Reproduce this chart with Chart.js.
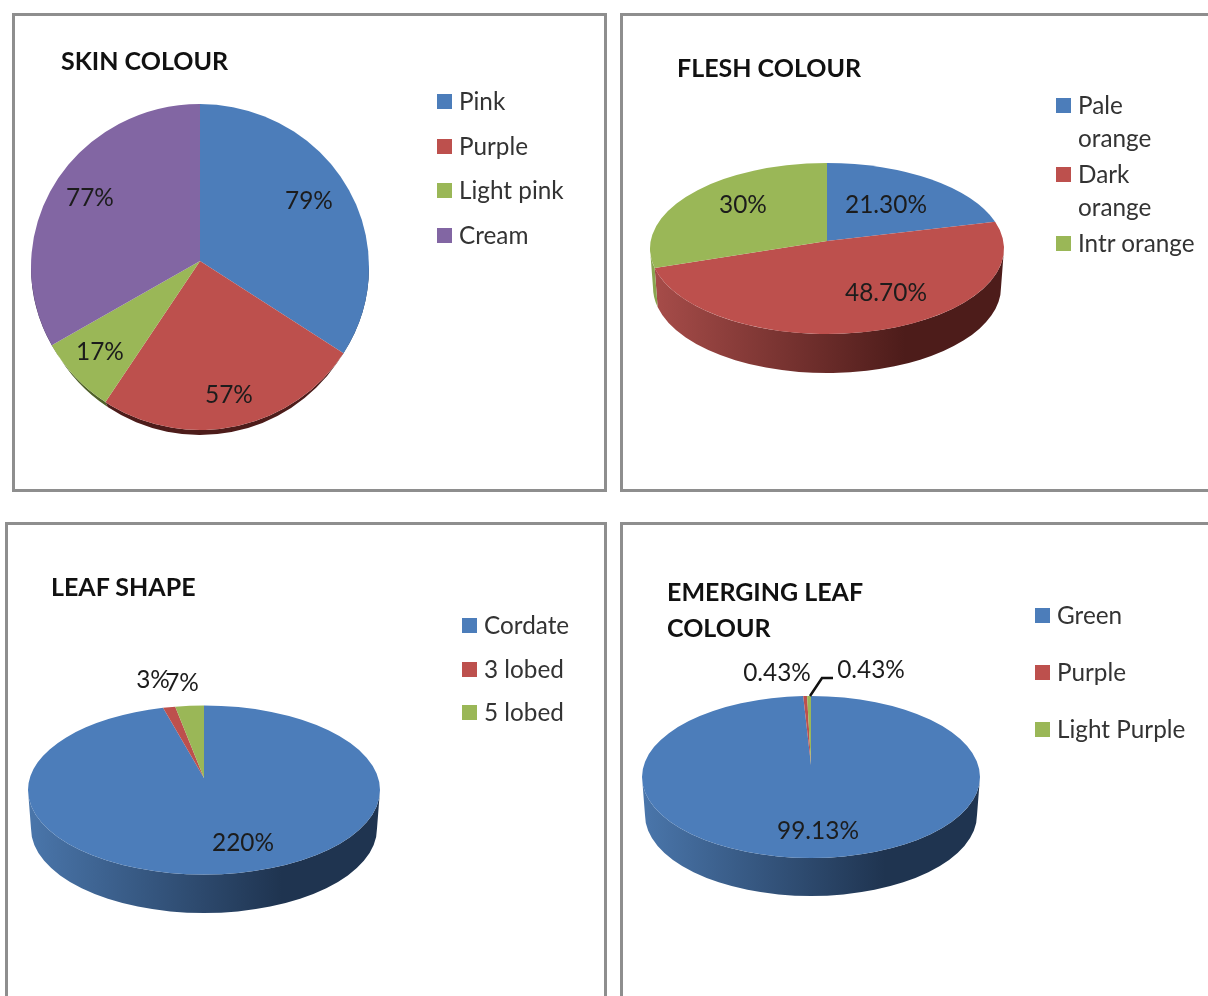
<!DOCTYPE html>
<html>
<head>
<meta charset="utf-8">
<title>Pie charts</title>
<script src="https://cdn.jsdelivr.net/npm/chart.js@4/dist/chart.umd.min.js"></script>
<style>
  html, body { margin: 0; padding: 0; background: #fff; overflow: hidden; }
  body { width: 1208px; height: 996px; position: relative; font-family: Lato, sans-serif; color: #1a1a1a; filter: blur(0.6px); }
  .frame { position: absolute; box-sizing: border-box; border: 3px solid #8e8e8e; }
  canvas { position: absolute; }
  .title { position: absolute; font-weight: bold; font-size: 25px; line-height: 36px; color: #111; white-space: pre; }
  .box { position: absolute; width: 15px; height: 15px; }
  .item { position: absolute; font-size: 24.3px; line-height: 33px; color: #333; white-space: pre; }
</style>
</head>
<body>
<script>
// values
const skinLabels = ['Pink', 'Purple', 'Light pink', 'Cream'];
const skinValues = [79, 57, 17, 77];
const skinTexts = ['79%', '57%', '17%', '77%'];

const fleshLabels = ['Pale\norange', 'Dark\norange', 'Intr orange'];
const fleshValues = [21.3, 48.7, 30];
const fleshTexts = ['21.30%', '48.70%', '30%'];

const shapeLabels = ['Cordate', '3 lobed', '5 lobed'];
const shapeValues = [220, 3, 7];
const shapeTexts = ['220%', '3%', '7%'];

const emergingLabels = ['Green', 'Purple', 'Light Purple'];
const emergingValues = [99.13, 0.43, 0.43];
const emergingTexts = ['99.13%', '0.43%', '0.43%'];

const colours = ['#4c7dba', '#bd504d', '#9ab757', '#8266a3'];
const sideLight = ['#4a76ab', '#a84d4a', '#8aa650', '#73598f'];
const sideDark = ['#1f3450', '#4d1c1a', '#4f6029', '#3f3050'];

// the slices start from a point above the ellipse centre, so move each slice
// angle to where its ray from that point really hits the rim
function rimAngle(a, lift) {
  const s = Math.sin(a), c = Math.cos(a);
  const t = lift * s + Math.sqrt(lift * lift * s * s + 1 - lift * lift);
  const hit = Math.atan2(t * s - lift, t * c);
  let diff = hit - a;
  while (diff > Math.PI) diff -= 2 * Math.PI;
  while (diff < -Math.PI) diff += 2 * Math.PI;
  return a + diff;
}

// tilted pie: the library works out the slice angles, this only squashes them into an ellipse
const tiltedPie = {
  id: 'tiltedPie',
  beforeDatasetsDraw(chart, args, opts) {
    const ctx = chart.ctx;
    const arcs = chart.getDatasetMeta(0).data;
    const x = arcs[0].x, y = arcs[0].y, rx = arcs[0].outerRadius;
    const l = opts.lift / opts.ry;

    // side wall, only the part facing us
    arcs.forEach((arc, i) => {
      const a0 = Math.max(rimAngle(arc.startAngle, l), 0);
      const a1 = Math.min(rimAngle(arc.endAngle, l), Math.PI);
      if (a1 <= a0) return;
      const grad = ctx.createLinearGradient(x - rx, 0, x + rx, 0);
      grad.addColorStop(0, opts.darkWall ? sideDark[i] : sideLight[i]);
      grad.addColorStop(0.72, sideDark[i]);
      grad.addColorStop(1, sideDark[i]);
      ctx.beginPath();
      ctx.ellipse(x, y, rx, opts.ry, 0, a0, a1);
      ctx.ellipse(x, y + opts.depth, rx - opts.inset, opts.ry, 0, a1, a0, true);
      ctx.closePath();
      ctx.fillStyle = grad;
      ctx.fill();
    });

    // top face
    arcs.forEach((arc, i) => {
      ctx.beginPath();
      ctx.moveTo(x, y - opts.lift);
      ctx.ellipse(x, y, rx, opts.ry, 0, rimAngle(arc.startAngle, l), rimAngle(arc.endAngle, l));
      ctx.closePath();
      ctx.fillStyle = colours[i];
      ctx.fill();
    });
    return false;
  },
  // returning false above skips afterDatasetsDraw, so the labels go here
  afterDraw(chart, args, opts) {
    const ctx = chart.ctx;
    ctx.save();
    ctx.font = '24.4px Lato';
    ctx.fillStyle = '#1c1c1c';
    ctx.textAlign = 'center';
    ctx.textBaseline = 'middle';
    opts.texts.forEach((t, i) => {
      ctx.fillText(t, opts.textAt[i][0], opts.textAt[i][1]);
    });
    if (opts.leader) {
      ctx.beginPath();
      ctx.moveTo(opts.leader[0][0], opts.leader[0][1]);
      ctx.lineTo(opts.leader[1][0], opts.leader[1][1]);
      ctx.lineTo(opts.leader[2][0], opts.leader[2][1]);
      ctx.strokeStyle = '#111';
      ctx.lineWidth = 2.5;
      ctx.stroke();
    }
    ctx.restore();
  }
};

function addFrame(f) {
  const d = document.createElement('div');
  d.className = 'frame';
  d.style.cssText = `left:${f.x}px;top:${f.y}px;width:${f.w}px;height:${f.h}px`;
  document.body.append(d);
}

function addTitle(lines, x, y) {
  lines.forEach((line, i) => {
    const d = document.createElement('div');
    d.className = 'title';
    d.textContent = line;
    d.style.cssText = `left:${x}px;top:${y + i * 36 - 19}px`;
    document.body.append(d);
  });
}

function addLegend(labels, boxX, ys) {
  labels.forEach((label, i) => {
    const b = document.createElement('div');
    b.className = 'box';
    b.style.cssText = `left:${boxX}px;top:${ys[i] - 7}px;background:${colours[i]}`;
    document.body.append(b);
    const t = document.createElement('div');
    t.className = 'item';
    t.textContent = label;
    t.style.cssText = `left:${boxX + 22}px;top:${ys[i] - 17}px`;
    document.body.append(t);
  });
}

// f = frame, p = pie placement in page pixels
function addPie(labels, values, texts, f, p, textAt, leader) {
  const c = document.createElement('canvas');
  const w = Math.min(f.w, 1208 - f.x), h = Math.min(f.h, 996 - f.y);
  c.width = w;
  c.height = h;
  c.style.cssText = `left:${f.x}px;top:${f.y}px;width:${w}px;height:${h}px`;
  document.body.append(c);
  const left = p.cx - p.rx - f.x, top = p.cy - p.rx - f.y;
  new Chart(c, {
    type: 'pie',
    data: {
      labels: labels,
      datasets: [{ data: values, backgroundColor: colours, borderWidth: 0 }]
    },
    options: {
      responsive: false,
      animation: false,
      layout: { padding: { left: left, top: top, right: w - left - 2 * p.rx, bottom: h - top - 2 * p.rx } },
      plugins: {
        legend: { display: false },
        title: { display: false },
        tooltip: { enabled: false },
        tiltedPie: {
          ry: p.ry, lift: p.lift, depth: p.depth, inset: p.inset, darkWall: p.darkWall, texts: texts,
          textAt: textAt.map(a => [a[0] - f.x, a[1] - f.y]),
          leader: leader ? leader.map(a => [a[0] - f.x, a[1] - f.y]) : null
        }
      }
    },
    plugins: [tiltedPie]
  });
}

const skinFrame = { x: 12, y: 13, w: 595, h: 479 };
const fleshFrame = { x: 620, y: 13, w: 620, h: 479 };
const shapeFrame = { x: 5, y: 522, w: 602, h: 500 };
const emergingFrame = { x: 620, y: 522, w: 620, h: 500 };

[skinFrame, fleshFrame, shapeFrame, emergingFrame].forEach(addFrame);

addPie(skinLabels, skinValues, skinTexts, skinFrame,
  { cx: 200, cy: 267, rx: 169, ry: 163, lift: 6, depth: 5, inset: 4, darkWall: true },
  [[309, 201], [229, 395], [100, 352], [90, 198]]);
addPie(fleshLabels, fleshValues, fleshTexts, fleshFrame,
  { cx: 827, cy: 248.5, rx: 177, ry: 85.5, lift: 7.5, depth: 39, inset: 3 },
  [[886, 205], [886, 293], [743, 205]]);
addPie(shapeLabels, shapeValues, shapeTexts, shapeFrame,
  { cx: 204, cy: 790, rx: 176, ry: 84.5, lift: 12, depth: 38.5, inset: 3 },
  [[243, 843], [153, 680], [182, 683]]);
addPie(emergingLabels, emergingValues, emergingTexts, emergingFrame,
  { cx: 811, cy: 777, rx: 169, ry: 81, lift: 12, depth: 38, inset: 3 },
  [[818, 831], [777, 673], [871, 670]],
  [[810, 696], [822, 678], [833, 678]]);

addTitle(['SKIN COLOUR'], 61, 61);
addTitle(['FLESH COLOUR'], 677, 68);
addTitle(['LEAF SHAPE'], 51, 587);
addTitle(['EMERGING LEAF', 'COLOUR'], 667, 592);

addLegend(skinLabels, 437, [101, 146, 190, 235]);
addLegend(fleshLabels, 1056, [105, 174, 243]);
addLegend(shapeLabels, 462, [625, 669, 712]);
addLegend(emergingLabels, 1035, [615, 672, 729]);
</script>
</body>
</html>
